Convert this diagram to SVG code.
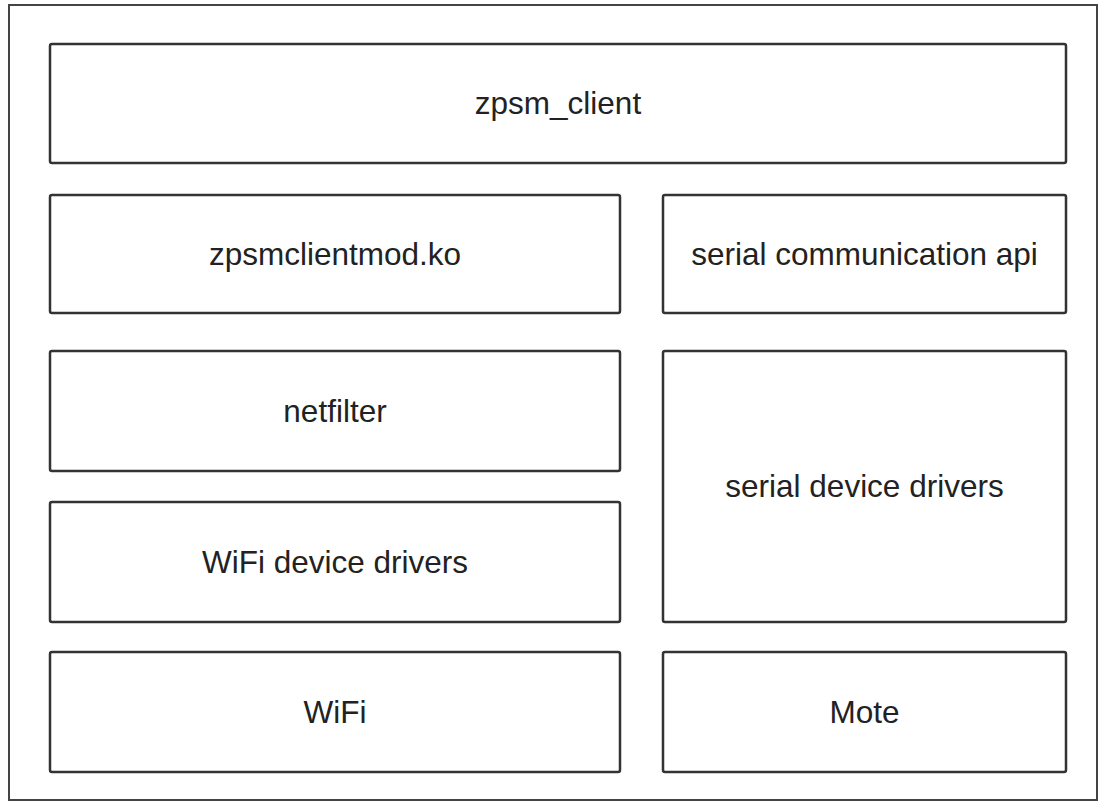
<svg xmlns="http://www.w3.org/2000/svg" width="1099" height="802" viewBox="0 0 1099 802">
<style>
.box{fill:#fff;stroke:#333;stroke-width:2.5}
.lbl{font-family:"Liberation Sans",Arial,sans-serif;font-size:31.5px;fill:#222;text-anchor:middle}
</style>
<rect width="1099" height="802" fill="#fff"/>
<rect id="frame" x="9" y="5" width="1088" height="795" fill="none" stroke="#444" stroke-width="2"/>
<g id="zpsm_client"><rect class="box" x="50" y="44" width="1016" height="119" rx="2"/><text class="lbl" x="558" y="114">zpsm_client</text></g>
<g id="zpsmclientmod"><rect class="box" x="50" y="195" width="570" height="118" rx="2"/><text class="lbl" x="335" y="265">zpsmclientmod.ko</text></g>
<g id="serial_api"><rect class="box" x="663" y="195" width="403" height="118" rx="2"/><text class="lbl" x="864.5" y="265">serial communication api</text></g>
<g id="netfilter"><rect class="box" x="50" y="351" width="570" height="120" rx="2"/><text class="lbl" x="335" y="422">netfilter</text></g>
<g id="wifi_drivers"><rect class="box" x="50" y="502" width="570" height="120" rx="2"/><text class="lbl" x="335" y="573">WiFi device drivers</text></g>
<g id="serial_drivers"><rect class="box" x="663" y="351" width="403" height="271" rx="2"/><text class="lbl" x="864.5" y="497">serial device drivers</text></g>
<g id="wifi"><rect class="box" x="50" y="652" width="570" height="120" rx="2"/><text class="lbl" x="335" y="723">WiFi</text></g>
<g id="mote"><rect class="box" x="663" y="652" width="403" height="120" rx="2"/><text class="lbl" x="864.5" y="723">Mote</text></g>
<g id="connectors"></g>
</svg>
